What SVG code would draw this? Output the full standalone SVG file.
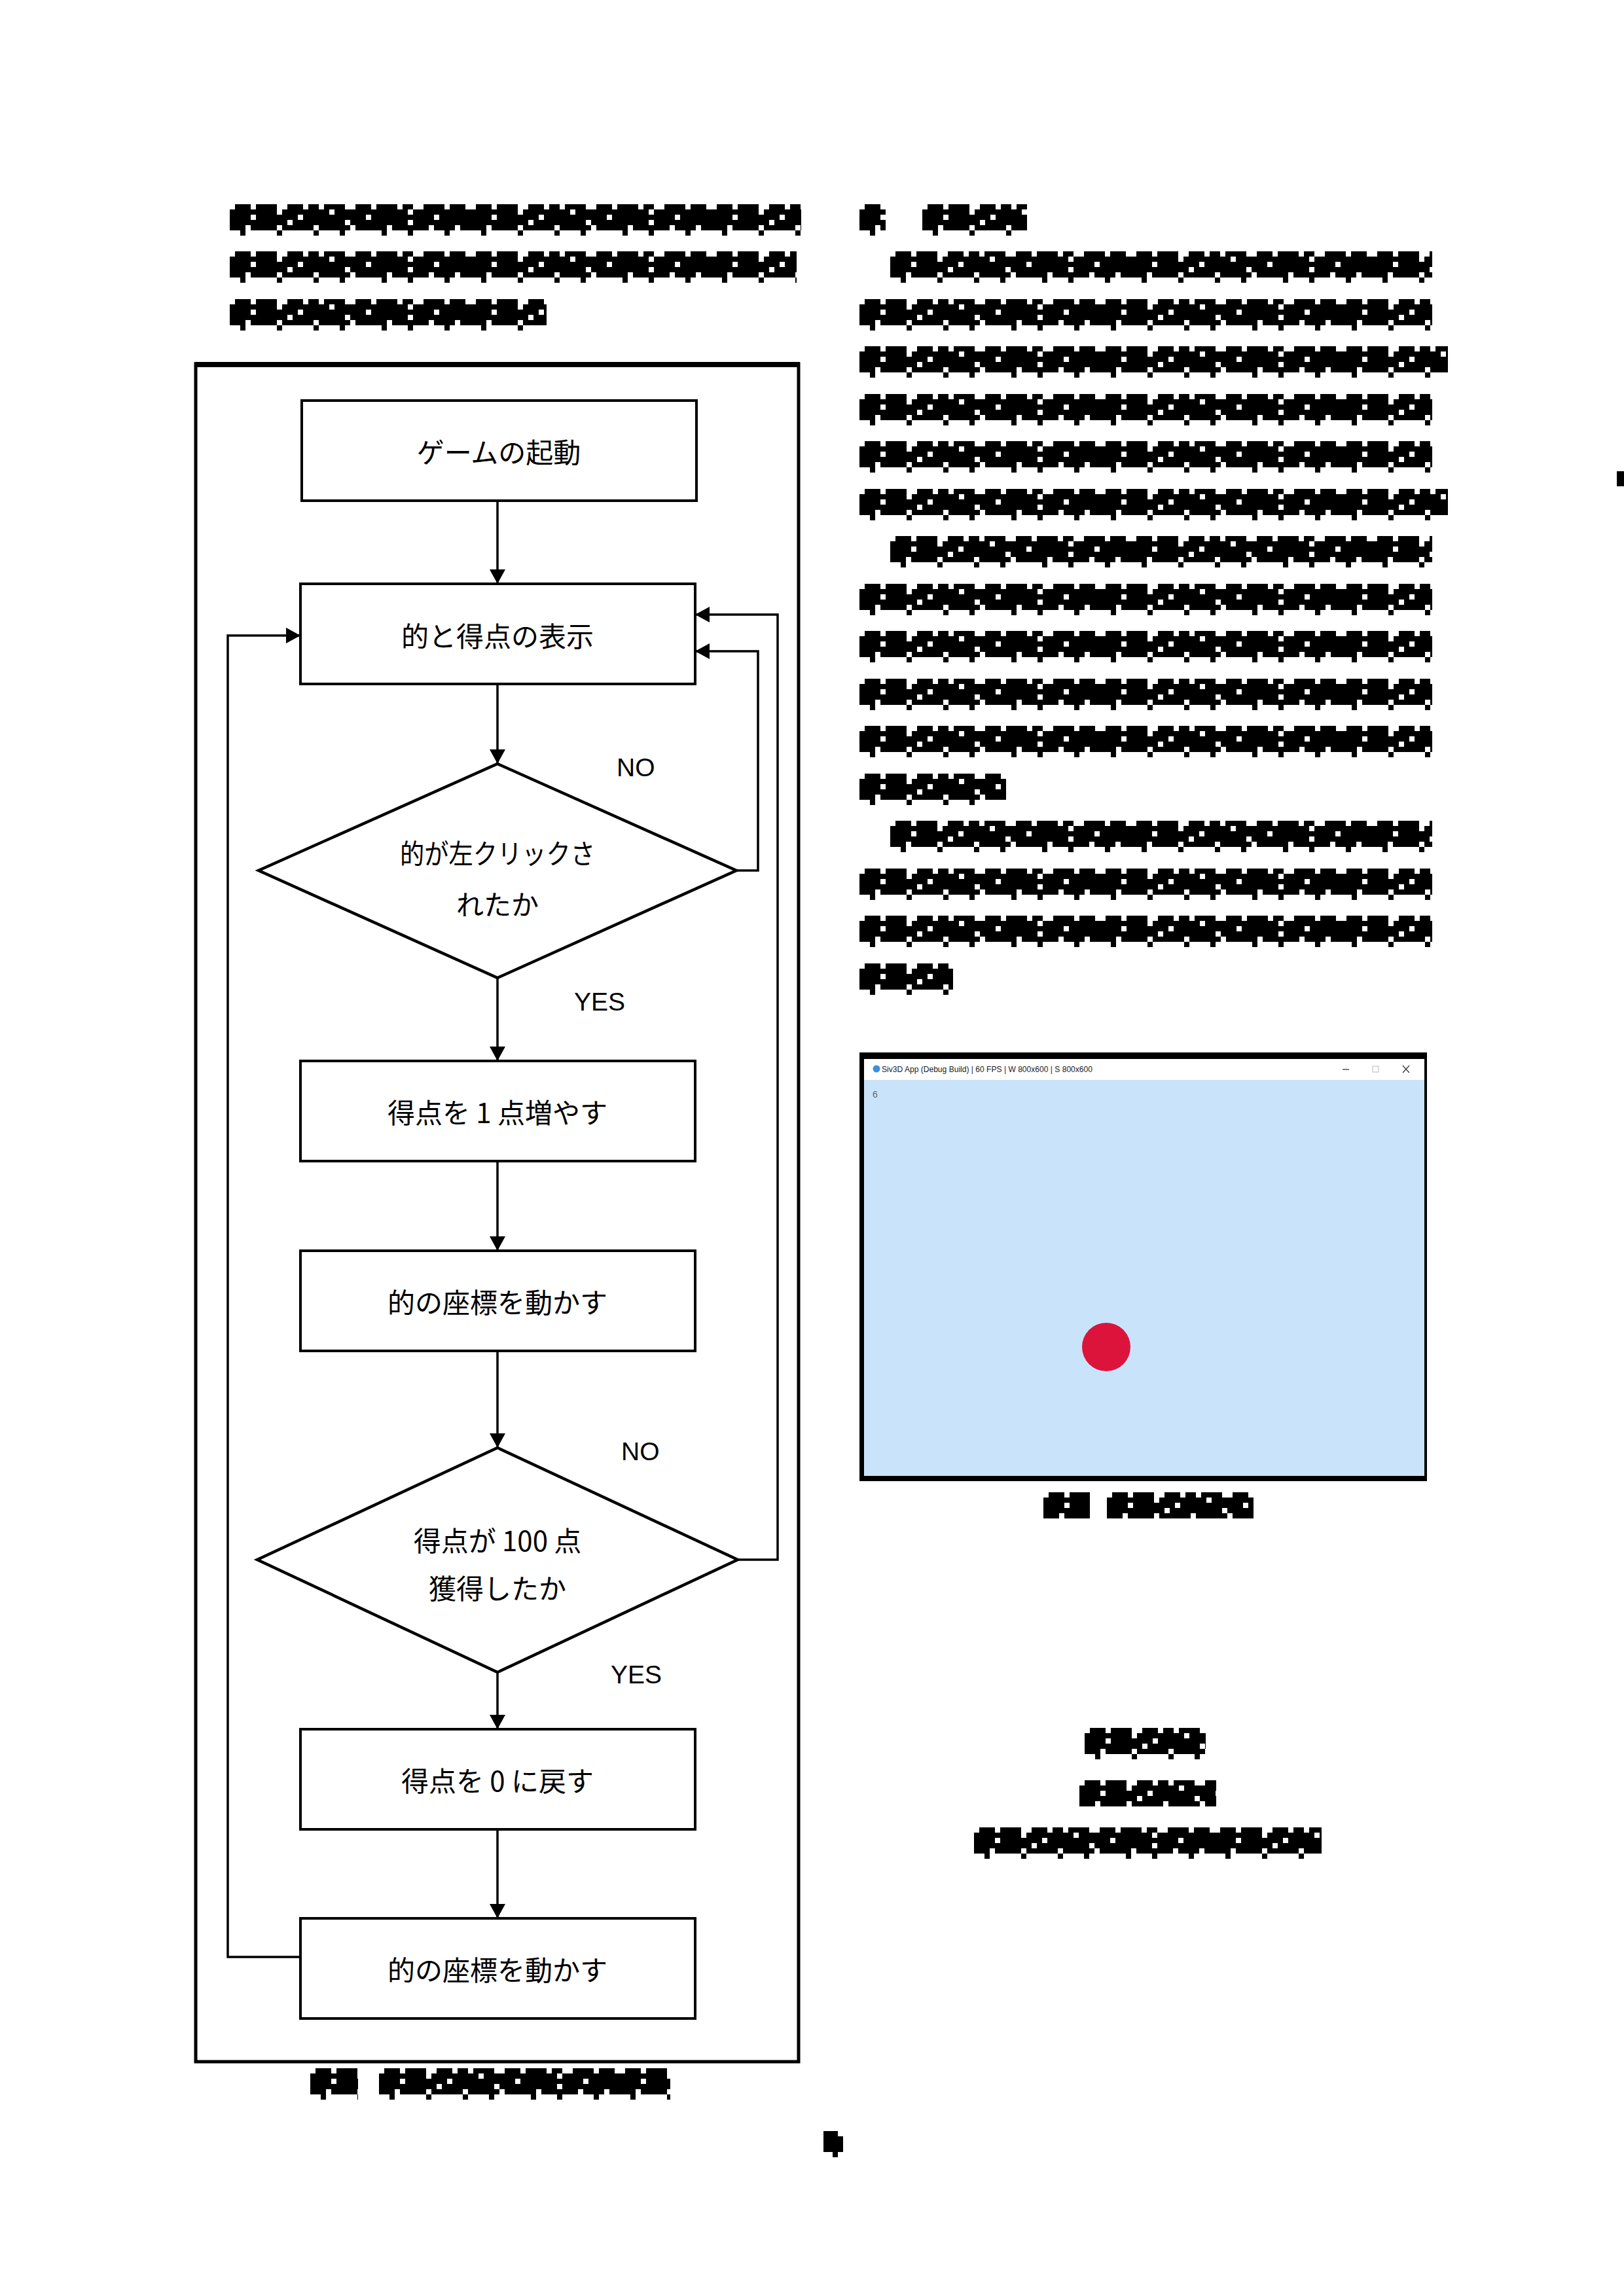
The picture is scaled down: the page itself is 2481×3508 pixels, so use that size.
<svg xmlns="http://www.w3.org/2000/svg" width="2481" height="3508" viewBox="0 0 2481 3508">
<style>
.box{fill:#fff;stroke:#000;stroke-width:4}
.dia{fill:#fff;stroke:#000;stroke-width:4.5;stroke-linejoin:miter}
.con{fill:none;stroke:#000;stroke-width:3.5}
.jp{font-family:"Noto Sans CJK JP","Noto Sans",sans-serif;font-size:42px;fill:#000;text-anchor:middle;dominant-baseline:central}
.lbl{font-family:"Liberation Sans",Arial,sans-serif;font-size:39px;fill:#000}
.blk{fill:url(#tx)}
</style>
<defs>
<pattern id="tx" patternUnits="userSpaceOnUse" x="0" y="0" width="368" height="48">
<path fill="#000" d="M8 0h24v8h-24z M40 0h32v8h-32z M88 0h24v8h-24z M120 0h16v8h-16z M144 0h32v8h-32z M192 0h24v8h-24z M224 0h32v8h-32z M264 0h16v8h-16z M296 0h32v8h-32z M336 0h24v8h-24z M0 8h72v8h-72z M80 8h72v8h-72z M160 8h112v8h-112z M280 8h88v8h-88z M0 16h32v8h-32z M40 16h64v8h-64z M112 16h96v8h-96z M216 16h96v8h-96z M320 16h48v8h-48z M0 24h88v8h-88z M96 24h80v8h-80z M184 24h88v8h-88z M280 24h88v8h-88z M0 32h24v8h-24z M32 32h40v8h-40z M80 32h48v8h-48z M136 32h48v8h-48z M192 32h48v8h-48z M248 32h56v8h-56z M312 32h32v8h-32z M352 32h16v8h-16z M16 40h8v8h-8z M72 40h8v8h-8z M128 40h8v8h-8z M168 40h8v8h-8z M232 40h8v8h-8z M272 40h8v8h-8z M328 40h8v8h-8z"/>
</pattern>
<marker id="ah" markerUnits="userSpaceOnUse" viewBox="0 0 22 24" markerWidth="22" markerHeight="24" refX="22" refY="12" orient="auto">
<path d="M0,0 L22,12 L0,24 z" fill="#000"/>
</marker>
</defs>
<rect width="2481" height="3508" fill="#fff"/>

<g id="body-text">
<g transform="translate(351,312)"><rect class="blk" width="873" height="48"/></g>
<g transform="translate(351,384)"><rect class="blk" width="866" height="48"/></g>
<g transform="translate(351,457)"><rect class="blk" width="484" height="48"/></g>
<g transform="translate(1313,312)"><rect class="blk" width="40" height="48"/></g>
<g transform="translate(1409,312)"><rect class="blk" width="160" height="48"/></g>
<g transform="translate(1360,384)"><rect class="blk" width="828" height="48"/></g>
<g transform="translate(1313,457)"><rect class="blk" width="875" height="48"/></g>
<g transform="translate(1313,529)"><rect class="blk" width="899" height="48"/></g>
<g transform="translate(1313,602)"><rect class="blk" width="875" height="48"/></g>
<g transform="translate(1313,674)"><rect class="blk" width="875" height="48"/></g>
<g transform="translate(1313,747)"><rect class="blk" width="899" height="48"/></g>
<g transform="translate(1360,819)"><rect class="blk" width="828" height="48"/></g>
<g transform="translate(1313,892)"><rect class="blk" width="875" height="48"/></g>
<g transform="translate(1313,964)"><rect class="blk" width="875" height="48"/></g>
<g transform="translate(1313,1037)"><rect class="blk" width="875" height="48"/></g>
<g transform="translate(1313,1109)"><rect class="blk" width="875" height="48"/></g>
<g transform="translate(1313,1182)"><rect class="blk" width="224" height="48"/></g>
<g transform="translate(1360,1254)"><rect class="blk" width="828" height="48"/></g>
<g transform="translate(1313,1327)"><rect class="blk" width="875" height="48"/></g>
<g transform="translate(1313,1399)"><rect class="blk" width="875" height="48"/></g>
<g transform="translate(1313,1472)"><rect class="blk" width="143" height="48"/></g>
<g transform="translate(1594,2280)"><rect class="blk" width="71" height="40"/></g>
<g transform="translate(1691,2280)"><rect class="blk" width="224" height="40"/></g>
<g transform="translate(474,3160)"><rect class="blk" width="73" height="48"/></g>
<g transform="translate(579,3160)"><rect class="blk" width="445" height="48"/></g>
<g transform="translate(1657,2640)"><rect class="blk" width="185" height="48"/></g>
<g transform="translate(1649,2720)"><rect class="blk" width="209" height="40"/></g>
<g transform="translate(1488,2792)"><rect class="blk" width="531" height="48"/></g>
<path fill="#000" d="M1258 3256h22v8h8v24h-8v8h-8v-8h-14z"/>
<rect x="2470" y="720" width="11" height="23" fill="#000"/>
</g>

<g id="frame">
<rect x="299" y="556" width="921" height="2594" fill="none" stroke="#000" stroke-width="5"/>
<line x1="297" y1="557" x2="1222" y2="557" stroke="#000" stroke-width="8"/>
</g>

<g id="connectors">
<path class="con" d="M760 765V892" marker-end="url(#ah)"/>
<path class="con" d="M760 1028V1167" marker-end="url(#ah)"/>
<path class="con" d="M760 1494V1621" marker-end="url(#ah)"/>
<path class="con" d="M760 1774V1911" marker-end="url(#ah)"/>
<path class="con" d="M760 2064V2212" marker-end="url(#ah)"/>
<path class="con" d="M760 2555V2642" marker-end="url(#ah)"/>
<path class="con" d="M760 2795V2931" marker-end="url(#ah)"/>
<path class="con" d="M459 2990H348V971H459" marker-end="url(#ah)"/>
<path class="con" d="M1125 1330H1158V995H1062" marker-end="url(#ah)"/>
<path class="con" d="M1127 2383H1188V939H1062" marker-end="url(#ah)"/>
</g>

<g id="n-start"><rect class="box" x="461" y="612" width="603" height="153"/><text class="jp" x="762" y="688">ゲームの起動</text></g>
<g id="n-display"><rect class="box" x="459" y="892" width="603" height="153"/><text class="jp" x="760" y="969">的と得点の表示</text></g>
<g id="n-click"><polygon class="dia" points="760,1167 1125,1330 760,1494 395,1330"/><text class="jp" x="760" y="1301" textLength="298" lengthAdjust="spacingAndGlyphs">的が左クリックさ</text><text class="jp" x="760" y="1379">れたか</text></g>
<g id="n-inc"><rect class="box" x="459" y="1621" width="603" height="153"/><text class="jp" x="760" y="1697">得点を 1 点増やす</text></g>
<g id="n-move1"><rect class="box" x="459" y="1911" width="603" height="153"/><text class="jp" x="760" y="1987">的の座標を動かす</text></g>
<g id="n-check"><polygon class="dia" points="760,2212 1127,2383 760,2555 393,2383"/><text class="jp" x="760" y="2351">得点が 100 点</text><text class="jp" x="760" y="2424">獲得したか</text></g>
<g id="n-reset"><rect class="box" x="459" y="2642" width="603" height="153"/><text class="jp" x="760" y="2718">得点を 0 に戻す</text></g>
<g id="n-move2"><rect class="box" x="459" y="2931" width="603" height="153"/><text class="jp" x="760" y="3007">的の座標を動かす</text></g>

<g id="labels">
<text class="lbl" x="942" y="1186">NO</text>
<text class="lbl" x="877" y="1544">YES</text>
<text class="lbl" x="949" y="2231">NO</text>
<text class="lbl" x="933" y="2572">YES</text>
</g>

<g id="screenshot">
<rect x="1313" y="1608" width="867" height="655" fill="#000"/>
<rect x="1320" y="1618" width="856" height="32" fill="#fff"/>
<rect x="1320" y="1650" width="856" height="605" fill="#c9e4fa"/>
<circle cx="1339" cy="1633" r="5.5" fill="#3d8fdc"/>
<text x="1347" y="1638" font-family="Liberation Sans, Arial, sans-serif" font-size="13" fill="#222" textLength="322" lengthAdjust="spacingAndGlyphs">Siv3D App (Debug Build) | 60 FPS | W 800x600 | S 800x600</text>
<line x1="2051" y1="1634" x2="2061" y2="1634" stroke="#333" stroke-width="1.3"/>
<rect x="2097" y="1629" width="9" height="9" fill="none" stroke="#bbb" stroke-width="1"/>
<path d="M2143 1628L2153 1639M2153 1628L2143 1639" stroke="#333" stroke-width="1.2" fill="none"/>
<text x="1333" y="1677" font-family="Liberation Sans, Arial, sans-serif" font-size="14" fill="#666">6</text>
<circle cx="1690" cy="2058" r="37" fill="#dc143c"/>
</g>
</svg>
